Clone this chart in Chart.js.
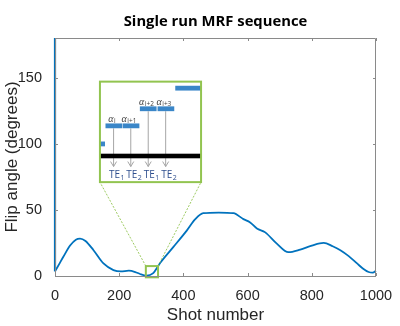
<!DOCTYPE html>
<html>
<head>
<meta charset="utf-8">
<script src="https://cdn.jsdelivr.net/npm/chart.js@4.4.1/dist/chart.umd.min.js"></script>
<style>
  html, body { margin: 0; padding: 0; background: #fff; }
  #wrap { width: 400px; height: 326px; }
</style>
</head>
<body>
<div id="wrap"><canvas id="mrfChart"></canvas></div>
<script>
// --- data ---
const shots      = [0, 13, 26, 47, 65, 78, 95, 120, 151, 182, 205, 230, 250, 265, 285, 305, 327, 369, 411, 437, 462, 510, 556, 587, 608, 629, 655, 691, 727, 764, 800, 837, 865, 889, 915, 941, 960, 977, 990, 1000];
const flipAngles = [3.5, 9, 14.5, 23, 27.5, 28.3, 26.5, 19.5, 9.5, 4.5, 3.5, 4, 3, 1.5, 0.3, 2, 9.7, 22, 34.5, 43, 47.5, 48, 47.5, 43, 40.5, 36, 33, 24.5, 18, 20, 23, 25, 22.5, 19.5, 15, 9.5, 5.5, 3, 2.5, 4];
// inversion pulse at the very first shot
const inversionShots  = [0, 0];
const inversionAngles = [3.5, 180];

const xTickValues = [0, 200, 400, 600, 800, 1000];
const yTickValues = [0, 50, 100, 150];
const chartTitle = 'Single run MRF sequence';

// zoomed region and where the enlarged view is placed (data units)
const zoomShots  = [283, 321];
const zoomAngles = [-1, 7.5];
const insetShots  = [140, 455];
const insetAngles = [71, 147];

// schematic inside the inset (fractions of the inset box)
const pulseStart = [0, 0.05, 0.22, 0.39, 0.565, 0.74];
const pulseEnd   = [0.05, 0.22, 0.39, 0.565, 0.735, 1.0];
const pulseLevel = [0.62, 0.44, 0.44, 0.27, 0.27, 0.065];
const pulseIndex = ['', 'i', 'i+1', 'i+2', 'i+3', ''];
const echoIndex  = ['', '1', '2', '1', '2', ''];

const lineBlue = '#0072BD';
const zoomGreen = '#92C450';

// MATLAB style box with inward ticks, title centred over the axes
const boxPlugin = {
    id: 'box',
    afterDraw(chart) {
        const { ctx, chartArea: a, scales } = chart;
        ctx.save();
        ctx.strokeStyle = '#8a8a8a';
        ctx.lineWidth = 1;
        ctx.beginPath();
        ctx.rect(a.left + 0.5, a.top + 0.5, a.right - a.left - 1, a.bottom - a.top);
        xTickValues.forEach(v => {
            const x = Math.round(scales.x.getPixelForValue(v)) + 0.5;
            ctx.moveTo(x, a.bottom); ctx.lineTo(x, a.bottom - 3);
            ctx.moveTo(x, a.top); ctx.lineTo(x, a.top + 3);
        });
        yTickValues.forEach(v => {
            const y = Math.round(scales.y.getPixelForValue(v)) + 0.5;
            ctx.moveTo(a.left, y); ctx.lineTo(a.left + 3, y);
            ctx.moveTo(a.right, y); ctx.lineTo(a.right - 3, y);
        });
        ctx.stroke();

        ctx.fillStyle = '#000';
        ctx.font = 'bold 14.8px "Open Sans"';
        ctx.textAlign = 'center';
        ctx.textBaseline = 'middle';
        ctx.fillText(chartTitle, (a.left + a.right) / 2, 22);
        ctx.restore();
    }
};

// zoom box + enlarged schematic of the pulse train
const insetPlugin = {
    id: 'inset',
    afterDatasetsDraw(chart) {
        const { ctx, scales } = chart;
        const px = v => scales.x.getPixelForValue(v);
        const py = v => scales.y.getPixelForValue(v);

        const zx0 = px(zoomShots[0]), zx1 = px(zoomShots[1]);
        const zy0 = py(zoomAngles[1]), zy1 = py(zoomAngles[0]);
        const ix0 = px(insetShots[0]), ix1 = px(insetShots[1]);
        const iy0 = py(insetAngles[1]), iy1 = py(insetAngles[0]);
        const w = ix1 - ix0, h = iy1 - iy0;
        const U = u => ix0 + u * w;
        const V = v => iy0 + v * h;

        ctx.save();
        // dashed connectors
        ctx.strokeStyle = zoomGreen;
        ctx.lineWidth = 0.9;
        ctx.setLineDash([2, 1.5]);
        ctx.beginPath();
        ctx.moveTo(zx0, zy0); ctx.lineTo(ix0, iy1);
        ctx.moveTo(zx1, zy0); ctx.lineTo(ix1, iy1);
        ctx.stroke();
        ctx.setLineDash([]);

        // small zoom rectangle
        ctx.lineWidth = 2;
        ctx.strokeRect(zx0, zy0, zx1 - zx0, zy1 - zy0);

        // inset box
        ctx.fillStyle = '#fff';
        ctx.fillRect(ix0, iy0, w, h);

        // arrows
        ctx.strokeStyle = '#a6a6a6';
        ctx.lineWidth = 1;
        for (let k = 1; k <= 4; k++) {
            const cx = U((pulseStart[k] + pulseEnd[k]) / 2);
            const top = V(pulseLevel[k]) + 2.5;
            const tip = V(0.845);
            ctx.beginPath();
            ctx.moveTo(cx, top); ctx.lineTo(cx, tip);
            ctx.moveTo(cx - 3, tip - 5); ctx.lineTo(cx, tip); ctx.lineTo(cx + 3, tip - 5);
            ctx.stroke();
        }
        // readout line
        ctx.fillStyle = '#000';
        ctx.fillRect(ix0, V(0.74) - 2.3, w, 4.6);

        // RF pulses
        ctx.fillStyle = '#3A86C8';
        pulseStart.forEach((s, k) => {
            const x0 = U(s) + (k > 0 ? 0.5 : 0);
            const x1 = U(pulseEnd[k]) - (k === 3 ? 0.5 : 0);
            ctx.fillRect(x0, V(pulseLevel[k]) - 2.4, x1 - x0, 4.8);
        });

        // labels
        ctx.textAlign = 'left';
        ctx.textBaseline = 'alphabetic';
        for (let k = 1; k <= 4; k++) {
            const cx = U((pulseStart[k] + pulseEnd[k]) / 2);
            const base = V(pulseLevel[k]) - 4;
            ctx.fillStyle = '#404040';
            ctx.font = 'italic 10px "Liberation Serif"';
            const aw = ctx.measureText('α').width;
            ctx.font = '6.5px "Open Sans"';
            const sw = ctx.measureText(pulseIndex[k]).width;
            const lx = cx - 2 - (aw + sw) / 2;
            ctx.font = 'italic 10px "Liberation Serif"';
            ctx.fillText('α', lx, base);
            ctx.font = '6.5px "Open Sans"';
            ctx.fillText(pulseIndex[k], lx + aw + 0.5, base + 1.5);

            // echo labels
            ctx.fillStyle = '#2F4F8F';
            ctx.font = '10px "Open Sans"';
            const tw = ctx.measureText('TE').width;
            ctx.font = '7px "Open Sans"';
            const ew = ctx.measureText(echoIndex[k]).width;
            const ex = cx + 3 - (tw + ew) / 2;
            const eb = V(0.955);
            ctx.font = '10px "Open Sans"';
            ctx.fillText('TE', ex, eb);
            ctx.font = '7px "Open Sans"';
            ctx.fillText(echoIndex[k], ex + tw + 0.5, eb + 2);
        }

        // green border last
        ctx.strokeStyle = zoomGreen;
        ctx.lineWidth = 2;
        ctx.strokeRect(ix0, iy0, w, h);
        ctx.restore();
    }
};

const ctx = document.getElementById('mrfChart').getContext('2d');
new Chart(ctx, {
    type: 'line',
    data: {
        datasets: [
            {
                data: shots.map((s, i) => ({ x: s, y: flipAngles[i] })),
                borderColor: lineBlue,
                borderWidth: 1.8,
                pointRadius: 0,
                cubicInterpolationMode: 'monotone',
                clip: 3
            },
            {
                data: inversionShots.map((s, i) => ({ x: s, y: inversionAngles[i] })),
                borderColor: lineBlue,
                borderWidth: 2.2,
                pointRadius: 0,
                clip: 3
            }
        ]
    },
    options: {
        responsive: true,
        maintainAspectRatio: false,
        animation: false,
        layout: { padding: { top: 38, right: 24, bottom: 0, left: 0 } },
        plugins: {
            legend: { display: false },
            tooltip: { enabled: false },
            title: { display: false }
        },
        scales: {
            x: {
                type: 'linear',
                min: 0, max: 1000,
                grid: { display: false },
                border: { display: false },
                afterBuildTicks: s => { s.ticks = xTickValues.map(v => ({ value: v })); },
                afterFit: s => { s.height = 50; },
                ticks: { color: '#262626', padding: 3, maxRotation: 0,
                          callback: v => String(v),
                          font: { family: 'Liberation Sans', size: 14.5 } },
                title: { display: true, text: 'Shot number', color: '#262626',
                         padding: { top: 0, bottom: 0 },
                         font: { family: 'Liberation Sans', size: 17 } }
            },
            y: {
                min: 0, max: 180,
                grid: { display: false },
                border: { display: false },
                afterBuildTicks: s => { s.ticks = yTickValues.map(v => ({ value: v })); },
                afterFit: s => { s.width = 55; },
                ticks: { color: '#262626', padding: 5,
                          callback: v => String(v),
                          font: { family: 'Liberation Sans', size: 14.5 } },
                title: { display: true, text: 'Flip angle (degrees)', color: '#262626',
                         padding: { top: 2, bottom: 0 },
                         font: { family: 'Liberation Sans', size: 17 } }
            }
        }
    },
    plugins: [boxPlugin, insetPlugin]
});
</script>
</body>
</html>
